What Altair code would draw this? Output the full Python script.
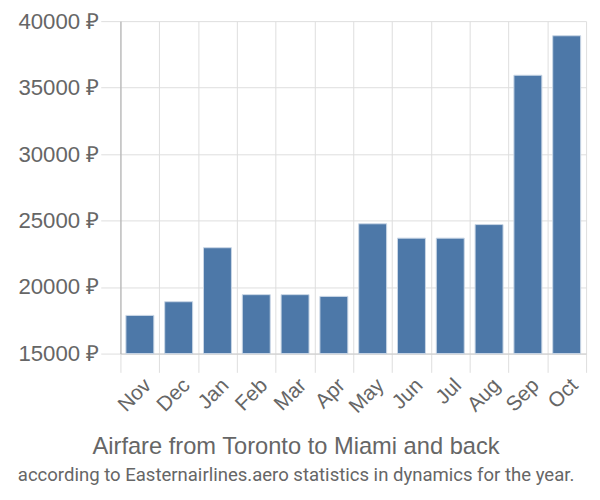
import altair as alt
import pandas as pd

months = ["Nov", "Dec", "Jan", "Feb", "Mar", "Apr", "May", "Jun", "Jul", "Aug", "Sep", "Oct"]
prices = [17870, 18900, 22960, 19430, 19430, 19300, 24760, 23680, 23680, 24700, 35930, 38900]
y_ticks = [15000, 20000, 25000, 30000, 35000, 40000]

df = pd.DataFrame({"month": months, "price": prices})

FONT = "Liberation Sans"

chart = alt.Chart(df).mark_bar(
    color="#4d78a8", stroke="#c9d6e6", strokeWidth=1,
    width=alt.RelativeBandSize(0.72)
).encode(
    x=alt.X("month:N", sort=months, title=None,
            scale=alt.Scale(paddingInner=0, paddingOuter=0),
            axis=alt.Axis(labelAngle=-45, labelFontSize=21, labelColor="#666666",
                          labelFont=FONT, tickBand="extent", tickSize=19,
                          tickColor="#dddddd", domainColor="#cccccc",
                          grid=True, gridColor="#dddddd", labelPadding=2)),
    y=alt.Y("price:Q", title=None,
            scale=alt.Scale(domain=[15000, 40000], nice=False, zero=False),
            axis=alt.Axis(values=y_ticks, labelExpr="datum.value + ' ₽'",
                          labelFontSize=22.5, labelColor="#666666", labelFont=FONT,
                          tickSize=20, tickColor="#dddddd", domainColor="#aaaaaa",
                          gridColor="#dddddd", labelPadding=2)),
    y2=alt.datum(15000),
).properties(
    width=472, height=337,
    padding={"left": 114, "top": 10, "right": 6, "bottom": 137},
    autosize=alt.AutoSizeParams(type="none"),
    title=alt.TitleParams(
        text="Airfare from Toronto to Miami and back",
        subtitle="according to Easternairlines.aero statistics in dynamics for the year.",
        orient="bottom", anchor="middle", dx=-58, offset=19,
        fontSize=24, fontWeight="normal", color="#666666", font=FONT,
        subtitleFontSize=18.8, subtitleColor="#666666", subtitleFont="Roboto",
        subtitlePadding=7,
    ),
).configure_view(stroke=None)

chart.save("out.html", embed_options={"renderer": "svg", "actions": False})
